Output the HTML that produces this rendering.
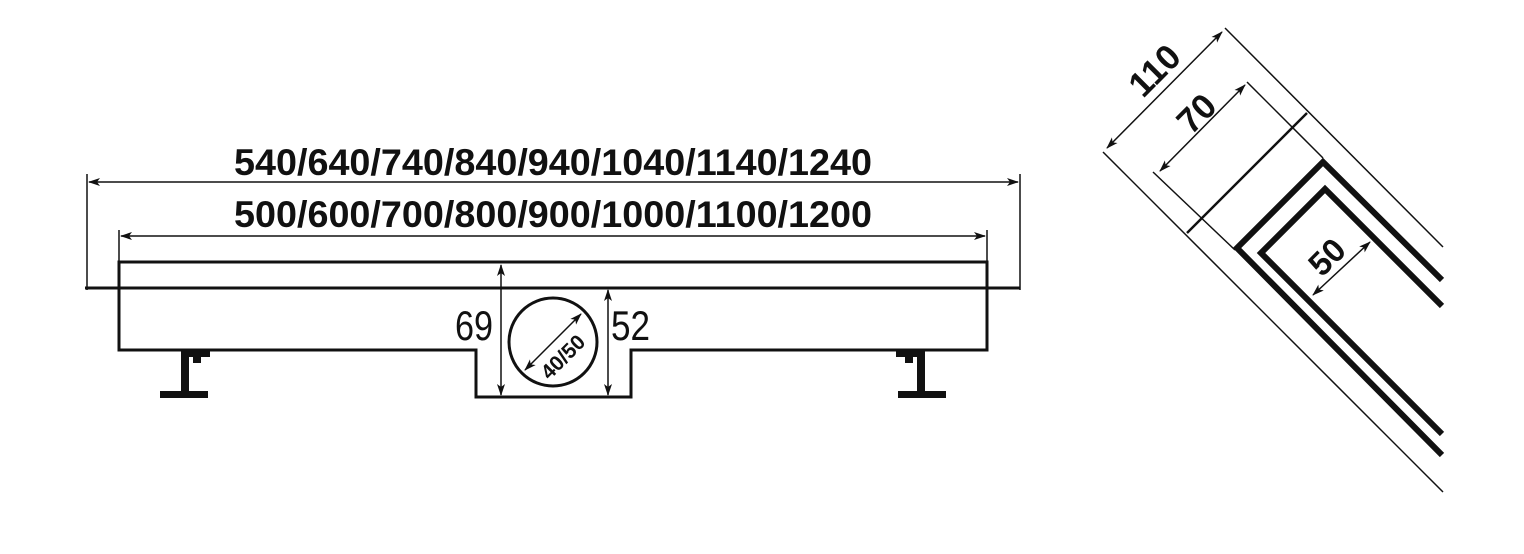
<!DOCTYPE html>
<html><head><meta charset="utf-8"><style>
html,body{margin:0;padding:0;background:#fff;}
svg{display:block;}
text{font-family:"Liberation Sans",sans-serif;fill:#111;}
</style></head><body>
<svg width="1524" height="554" viewBox="0 0 1524 554" xmlns="http://www.w3.org/2000/svg">
<defs>
<marker id="a" viewBox="0 0 12 8" refX="11" refY="4" markerWidth="12" markerHeight="8" markerUnits="userSpaceOnUse" orient="auto-start-reverse">
<path d="M0,0 L12,4 L0,8 L3,4 Z" fill="#111"/>
</marker>
</defs>
<g stroke="#111" fill="none">
<line x1="87" y1="174" x2="87" y2="290" stroke-width="1.5"/>
<line x1="1020" y1="174" x2="1020" y2="290" stroke-width="1.5"/>
<line x1="89" y1="182" x2="1018" y2="182" stroke-width="1.5" marker-start="url(#a)" marker-end="url(#a)"/>
<line x1="119" y1="230" x2="119" y2="262" stroke-width="1.5"/>
<line x1="987" y1="230" x2="987" y2="262" stroke-width="1.5"/>
<line x1="121" y1="236" x2="985" y2="236" stroke-width="1.5" marker-start="url(#a)" marker-end="url(#a)"/>
<line x1="85" y1="288" x2="1020" y2="288" stroke-width="3"/>
<path d="M119,262 H987 V350 H631 V397 H476 V350 H119 Z" stroke-width="3"/>
<circle cx="553" cy="342" r="44" stroke-width="3"/>
<line x1="525" y1="370" x2="581" y2="314" stroke-width="1.5" marker-start="url(#a)" marker-end="url(#a)"/>
<line x1="501" y1="265" x2="501" y2="395" stroke-width="1.5" marker-start="url(#a)" marker-end="url(#a)"/>
<line x1="608" y1="290" x2="608" y2="395" stroke-width="1.5" marker-start="url(#a)" marker-end="url(#a)"/>
</g>
<g fill="#111">
<rect x="160" y="391" width="48" height="7"/>
<rect x="181" y="351" width="8" height="42"/>
<rect x="181" y="351" width="29" height="6"/>
<rect x="193" y="351" width="8" height="12"/>
<rect x="898" y="391" width="48" height="7"/>
<rect x="917" y="351" width="8" height="42"/>
<rect x="896" y="351" width="29" height="6"/>
<rect x="905" y="351" width="8" height="12"/>
</g>
<text x="553" y="175" font-size="37" font-weight="bold" text-anchor="middle" textLength="638" lengthAdjust="spacingAndGlyphs">540/640/740/840/940/1040/1140/1240</text>
<text x="553" y="227" font-size="37" font-weight="bold" text-anchor="middle" textLength="638" lengthAdjust="spacingAndGlyphs">500/600/700/800/900/1000/1100/1200</text>
<text x="493" y="340" font-size="42" text-anchor="end" textLength="38" lengthAdjust="spacingAndGlyphs">69</text>
<text x="611" y="340" font-size="42" textLength="39" lengthAdjust="spacingAndGlyphs">52</text>
<text x="0" y="0" font-size="21" font-weight="bold" text-anchor="middle" transform="translate(568,362) rotate(-45)">40/50</text>
<g stroke="#111" fill="none" stroke-linecap="butt">
<line x1="1225" y1="28" x2="1443" y2="247" stroke-width="1.5"/>
<line x1="1103" y1="152" x2="1443" y2="492" stroke-width="1.5"/>
<line x1="1247" y1="82" x2="1323" y2="158" stroke-width="1.5"/>
<line x1="1153" y1="172" x2="1235" y2="250" stroke-width="1.5"/>
<line x1="1187" y1="233" x2="1307" y2="113" stroke-width="2.5"/>
<line x1="1107" y1="148" x2="1222" y2="32" stroke-width="1.5" marker-start="url(#a)" marker-end="url(#a)"/>
<line x1="1160" y1="171" x2="1245" y2="85" stroke-width="1.5" marker-start="url(#a)" marker-end="url(#a)"/>
<line x1="1313" y1="295" x2="1370" y2="242" stroke-width="1.5" marker-start="url(#a)" marker-end="url(#a)"/>
<path d="M1442,280 L1323,162 L1237,248 L1442,455" stroke-width="6"/>
<path d="M1442,306 L1325,189 L1261,253 L1442,434" stroke-width="6"/>
</g>
<text x="0" y="0" font-size="35" font-weight="bold" text-anchor="middle" transform="translate(1163,79) rotate(-45)">110</text>
<text x="0" y="0" font-size="35" font-weight="bold" text-anchor="middle" transform="translate(1205,122) rotate(-45)">70</text>
<text x="0" y="0" font-size="33" font-weight="bold" text-anchor="middle" transform="translate(1335,265) rotate(-45)">50</text>
</svg>
</body></html>
